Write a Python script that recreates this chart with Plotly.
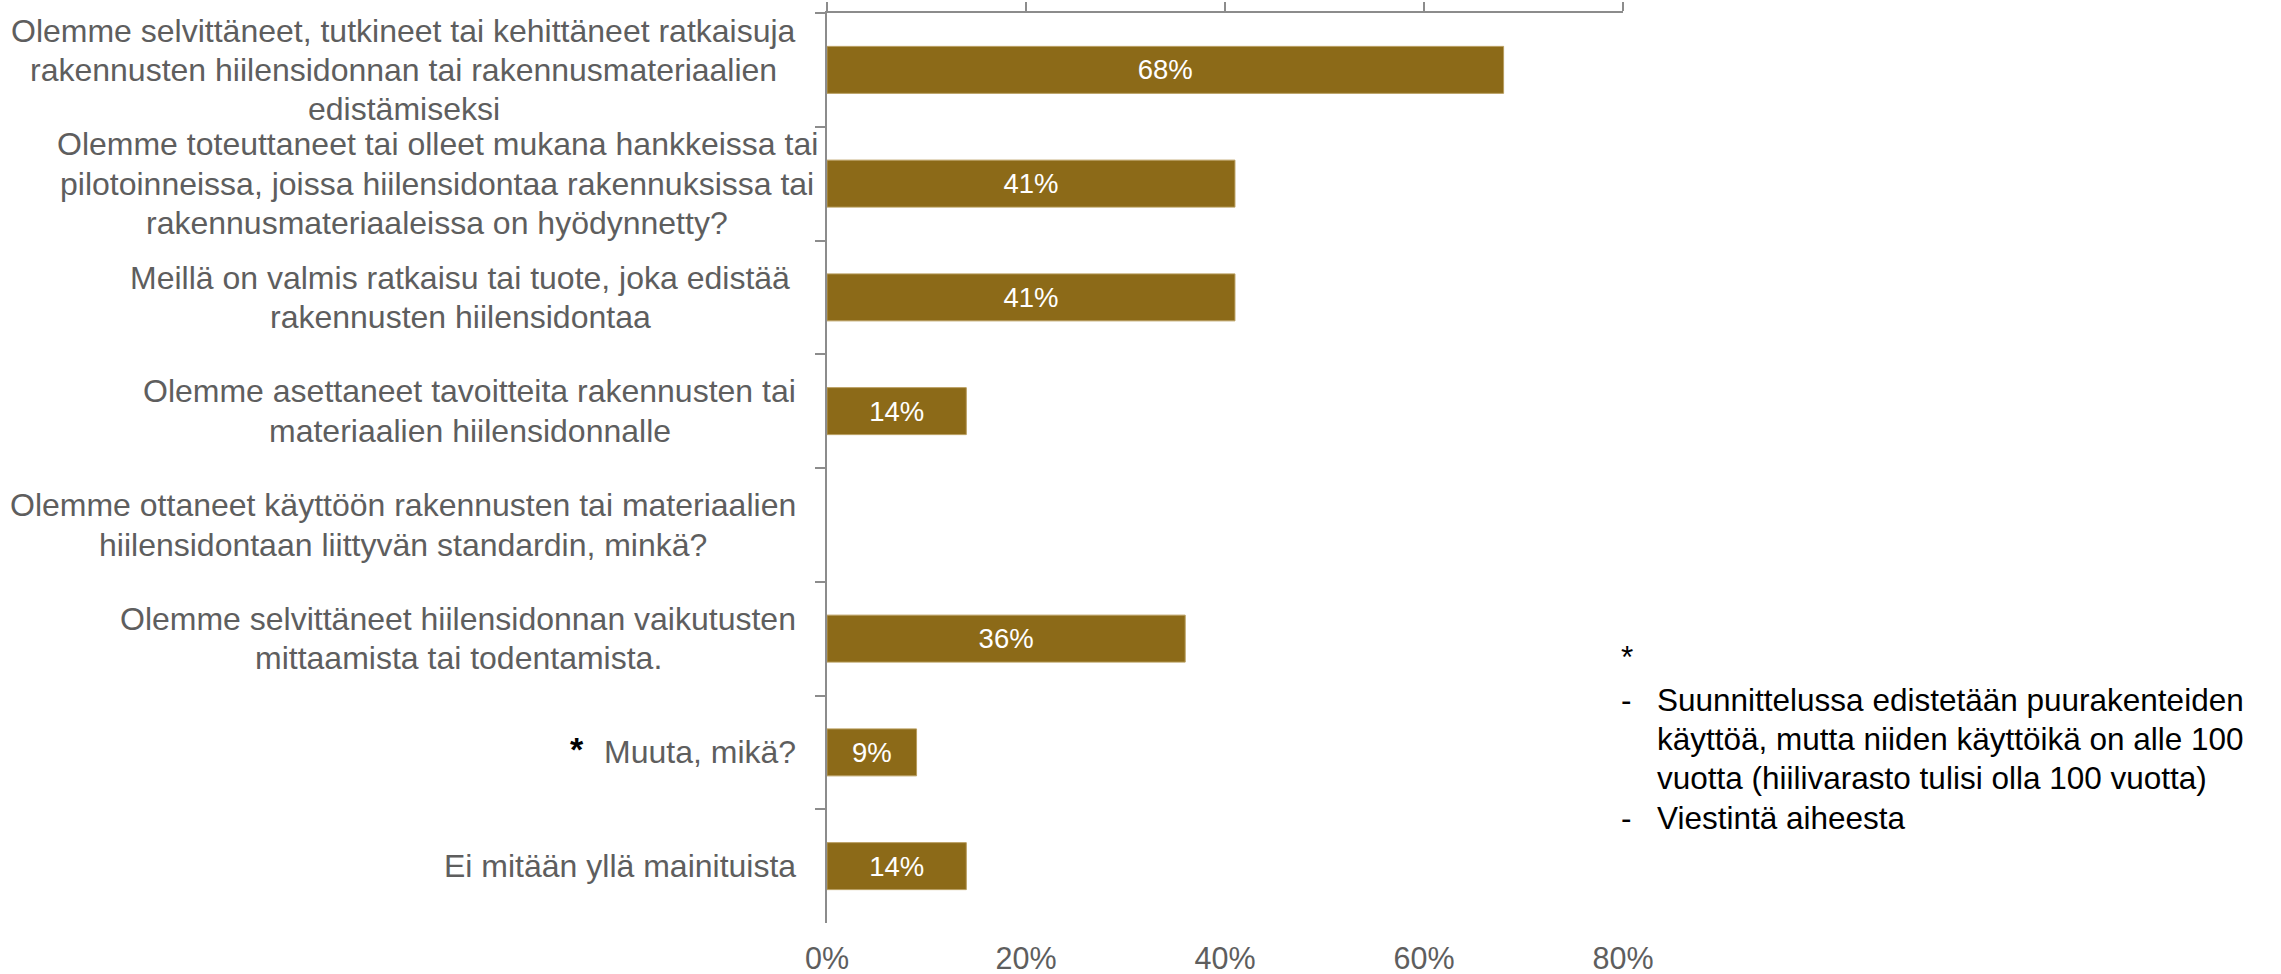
import plotly.graph_objects as go

# --- data -------------------------------------------------------------
categories = [
    "Olemme selvittäneet, tutkineet tai kehittäneet ratkaisuja<br>rakennusten hiilensidonnan tai rakennusmateriaalien<br>edistämiseksi",
    "Olemme toteuttaneet tai olleet mukana hankkeissa tai<br>pilotoinneissa, joissa hiilensidontaa rakennuksissa tai<br>rakennusmateriaaleissa on hyödynnetty?",
    "Meillä on valmis ratkaisu tai tuote, joka edistää<br>rakennusten hiilensidontaa",
    "Olemme asettaneet tavoitteita rakennusten tai<br>materiaalien hiilensidonnalle",
    "Olemme ottaneet käyttöön rakennusten tai materiaalien<br>hiilensidontaan liittyvän standardin, minkä?",
    "Olemme selvittäneet hiilensidonnan vaikutusten<br>mittaamista tai todentamista.",
    "Muuta, mikä?",
    "Ei mitään yllä mainituista",
]
values = [68, 41, 41, 14, None, 36, 9, 14]  # percent of respondents

tick_vals = [0, 20, 40, 60, 80]
tick_text = ["0%", "20%", "40%", "60%", "80%"]

note_header = "*"
note_lines = [
    ["Suunnittelussa edistetään puurakenteiden",
     "käyttöä, mutta niiden käyttöikä on alle 100",
     "vuotta (hiilivarasto tulisi olla 100 vuotta)"],
    ["Viestintä aiheesta"],
]

# --- styling ----------------------------------------------------------
W, H = 2281, 974
M_L, M_R, M_T, M_B = 827, 658, 13, 51
FONT = "Liberation Sans, Arial, sans-serif"
BAR = "#8C6A18"
AXIS = "#8C8C8C"
LABEL = "#5E5E5E"
LABEL_SIZE = 32
LABEL_LINE = 39.3   # px between label lines

# right edge of each category label block, as offset from the y axis (px)
label_edge = {0: -31, 1: -9, 2: -37}
DEFAULT_EDGE = -31

# Arial / Liberation Sans advance widths (1/1000 em) for centring lines
ADV = {
    " ": 278, ",": 278, ".": 278, "?": 556,
    "a": 556, "b": 556, "c": 500, "d": 556, "e": 556, "f": 278, "g": 556,
    "h": 556, "i": 222, "j": 222, "k": 500, "l": 222, "m": 833, "n": 556,
    "o": 556, "p": 556, "q": 556, "r": 333, "s": 500, "t": 278, "u": 556,
    "v": 500, "w": 722, "x": 500, "y": 500, "z": 500, "ä": 556, "ö": 556,
    "E": 667, "M": 833, "O": 778,
}


def text_width(s, size):
    return sum(ADV.get(ch, 556) for ch in s) * size / 1000.0


def paper_x(px):
    return (px - M_L) / (W - M_L - M_R)


def paper_y(py):
    return (H - M_B - py) / (H - M_T - M_B)


fig = go.Figure()

fig.add_trace(go.Bar(
    x=values,
    y=categories,
    orientation="h",
    marker=dict(color=BAR, line=dict(color="#B89D5E", width=1)),
    text=[f"{v}%" if v is not None else "" for v in values],
    textposition="inside",
    insidetextanchor="middle",
    textangle=0,
    constraintext="none",
    textfont=dict(family=FONT, size=27.5, color="white"),
    hoverinfo="skip",
    showlegend=False,
))

# invisible companion trace so the top axis (line + ticks) is drawn
fig.add_trace(go.Scatter(
    x=[v if v is not None else 0 for v in values],
    y=categories,
    xaxis="x2",
    mode="markers",
    marker=dict(opacity=0),
    hoverinfo="skip",
    showlegend=False,
))

fig.update_layout(
    width=W,
    height=H,
    margin=dict(l=M_L, r=M_R, t=M_T, b=M_B, autoexpand=False),
    paper_bgcolor="white",
    plot_bgcolor="white",
    bargap=0.587,
    xaxis=dict(
        range=[0, 80],
        tickvals=tick_vals,
        ticktext=tick_text,
        showline=False,
        showgrid=False,
        zeroline=False,
        ticks="",
        ticklabelstandoff=14,
        tickfont=dict(family=FONT, size=30.5, color=LABEL),
        fixedrange=True,
    ),
    xaxis2=dict(
        range=[0, 80],
        overlaying="x",
        side="top",
        tickvals=tick_vals,
        showticklabels=False,
        showline=True,
        linecolor=AXIS,
        linewidth=2,
        ticks="outside",
        ticklen=9,
        tickwidth=2,
        tickcolor=AXIS,
        showgrid=False,
        zeroline=False,
    ),
    yaxis=dict(
        type="category",
        categoryorder="array",
        categoryarray=categories,
        range=[len(categories) - 0.5, -0.5],
        showticklabels=False,
        showline=True,
        linecolor=AXIS,
        linewidth=2,
        ticks="outside",
        tickson="boundaries",
        ticklen=10,
        tickwidth=2,
        tickcolor=AXIS,
        showgrid=False,
        zeroline=False,
    ),
)

annotations = []

# category labels: block right-aligned to the axis, each line centred
for i, cat in enumerate(categories):
    lines = cat.split("<br>")
    block_w = max(text_width(s, LABEL_SIZE) for s in lines)
    centre_shift = label_edge.get(i, DEFAULT_EDGE) - block_w / 2
    n = len(lines)
    for j, line in enumerate(lines):
        annotations.append(dict(
            text=line,
            xref="paper", x=0, xanchor="center", xshift=centre_shift,
            yref="y", y=cat, yanchor="middle",
            yshift=-(j - (n - 1) / 2) * LABEL_LINE,
            align="center",
            showarrow=False,
            borderpad=0, borderwidth=0,
            font=dict(family=FONT, size=LABEL_SIZE, color=LABEL),
        ))

# asterisk marking the "Muuta, mikä?" row
annotations.append(dict(
    text="<b>*</b>",
    xref="paper", x=paper_x(577), xanchor="center",
    yref="y", y=categories[6], yanchor="middle", yshift=3,
    showarrow=False,
    font=dict(family=FONT, size=34, color="black"),
))

# footnote block on the right
annotations.append(dict(
    text=note_header,
    xref="paper", x=paper_x(1619), xanchor="left",
    yref="paper", y=paper_y(657), yanchor="middle",
    showarrow=False,
    font=dict(family=FONT, size=31.5, color="black"),
))
row_y = [700, 739.2, 778.4, 817.6]
k = 0
for block in note_lines:
    for j, line in enumerate(block):
        if j == 0:
            annotations.append(dict(
                text="-",
                xref="paper", x=paper_x(1619), xanchor="left",
                yref="paper", y=paper_y(row_y[k]), yanchor="middle",
                showarrow=False,
                font=dict(family=FONT, size=31.5, color="black"),
            ))
        annotations.append(dict(
            text=line,
            xref="paper", x=paper_x(1655), xanchor="left",
            yref="paper", y=paper_y(row_y[k]), yanchor="middle",
            showarrow=False,
            font=dict(family=FONT, size=31.5, color="black"),
        ))
        k += 1

fig.update_layout(annotations=annotations)

fig.write_html("out.html", config={"displayModeBar": False})
